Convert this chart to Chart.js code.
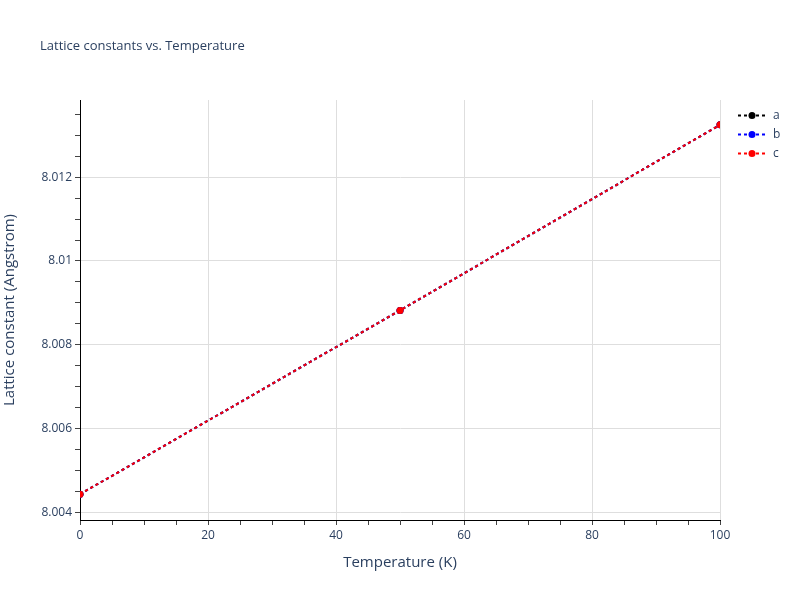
<!DOCTYPE html>
<html>
<head>
<meta charset="utf-8">
<script src="https://cdn.jsdelivr.net/npm/chart.js@4"></script>
<style>
  html, body { margin: 0; padding: 0; background: #fff; }
  canvas { display: block; }
</style>
</head>
<body>
<canvas id="chart" width="800" height="600"></canvas>
<script>
const temperatures = [0, 50, 100];
const latticeA = [8.00443, 8.00882, 8.01325];
const latticeB = [8.00443, 8.00882, 8.01325];
const latticeC = [8.00443, 8.00882, 8.01325];

const seriesNames = ['a', 'b', 'c'];
const seriesColors = ['#000000', '#0000ff', '#ff0000'];

const yTickValues = [8.004, 8.006, 8.008, 8.010, 8.012];
const yTickLabels = ['8.004', '8.006', '8.008', '8.01', '8.012'];
const xTickValues = [0, 20, 40, 60, 80, 100];
const xTickLabels = ['0', '20', '40', '60', '80', '100'];

const FONT = '"Open Sans", "Liberation Sans", sans-serif';
const TEXT = '#2a3f5f';

function majorIndex(values, v) {
  return values.findIndex(t => Math.abs(t - v) < 1e-9);
}

// major ticks plus the small unlabeled ones in between
function withMinor(step, lo, hi) {
  const out = [];
  const n = Math.round((hi - lo) / step);
  for (let i = 0; i <= n; i++) {
    out.push({ value: +(lo + i * step).toFixed(6) });
  }
  return out;
}

function makeDataset(i, values) {
  return {
    label: seriesNames[i],
    data: temperatures.map((t, k) => ({ x: t, y: values[k] })),
    borderColor: seriesColors[i],
    backgroundColor: seriesColors[i],
    borderWidth: 2,
    borderDash: [3, 3],
    pointRadius: 3.5,
    pointHoverRadius: 3.5,
    pointBorderWidth: 0,
    order: 3 - i
  };
}

const titleAndLegend = {
  id: 'titleAndLegend',
  afterDraw(chart) {
    const ctx = chart.ctx;
    ctx.save();
    ctx.fillStyle = TEXT;
    ctx.font = '13px ' + FONT;
    ctx.textBaseline = 'middle';
    ctx.textAlign = 'left';
    ctx.fillText('Lattice constants vs. Temperature', 40, 46);

    chart.data.datasets.forEach((ds, i) => {
      const y = 115.5 + i * 19;
      ctx.strokeStyle = ds.borderColor;
      ctx.lineWidth = 2;
      ctx.setLineDash([3, 3]);
      ctx.beginPath();
      ctx.moveTo(738, y);
      ctx.lineTo(766, y);
      ctx.stroke();
      ctx.setLineDash([]);
      ctx.fillStyle = ds.backgroundColor;
      ctx.beginPath();
      ctx.arc(752, y, 3.5, 0, Math.PI * 2);
      ctx.fill();
      ctx.fillStyle = TEXT;
      ctx.font = '12px ' + FONT;
      ctx.fillText(ds.label, 773, y);
    });
    ctx.restore();
  }
};

const config = {
  type: 'line',
  data: {
    datasets: [
      makeDataset(0, latticeA),
      makeDataset(1, latticeB),
      makeDataset(2, latticeC)
    ]
  },
  options: {
    responsive: false,
    animation: false,
    layout: { padding: { top: 100, right: 80, bottom: 0, left: 0 } },
    plugins: {
      legend: { display: false },
      title: { display: false },
      tooltip: { enabled: false }
    },
    scales: {
      x: {
        type: 'linear',
        min: 0,
        max: 100,
        afterFit(s) { s.height = 80; },
        afterBuildTicks(s) { s.ticks = withMinor(5, 0, 100); },
        border: { color: '#000000', width: 1 },
        grid: {
          color: c => majorIndex(xTickValues, c.tick.value) >= 0 ? '#dedede' : 'rgba(0,0,0,0)',
          tickColor: '#444444',
          tickLength: 5,
          lineWidth: 1
        },
        ticks: {
          autoSkip: false,
          maxRotation: 0,
          padding: 3,
          color: TEXT,
          font: { family: FONT, size: 12 },
          callback: v => {
            const i = majorIndex(xTickValues, v);
            return i >= 0 ? xTickLabels[i] : '';
          }
        },
        title: {
          display: true,
          text: 'Temperature (K)',
          color: TEXT,
          font: { family: FONT, size: 15 },
          padding: { top: 0, bottom: 28 }
        }
      },
      y: {
        type: 'linear',
        min: 8.003814,
        max: 8.013844,
        afterFit(s) { s.width = 80; },
        afterBuildTicks(s) { s.ticks = withMinor(0.0005, 8.004, 8.0135); },
        border: { color: '#000000', width: 1 },
        grid: {
          color: c => majorIndex(yTickValues, c.tick.value) >= 0 ? '#dedede' : 'rgba(0,0,0,0)',
          tickColor: '#444444',
          tickLength: 5,
          lineWidth: 1
        },
        ticks: {
          autoSkip: false,
          padding: 3,
          color: TEXT,
          font: { family: FONT, size: 12 },
          callback: v => {
            const i = majorIndex(yTickValues, v);
            return i >= 0 ? yTickLabels[i] : '';
          }
        },
        title: {
          display: true,
          text: 'Lattice constant (Angstrom)',
          color: TEXT,
          font: { family: FONT, size: 15 },
          padding: { top: 1, bottom: 0 }
        }
      }
    }
  },
  plugins: [titleAndLegend]
};

new Chart(document.getElementById('chart'), config);
</script>
</body>
</html>
